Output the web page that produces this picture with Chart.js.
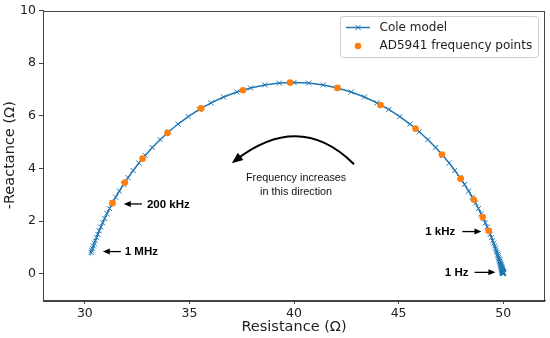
<!DOCTYPE html>
<html>
<head>
<meta charset="utf-8">
<script src="https://cdn.jsdelivr.net/npm/chart.js@4.4.1/dist/chart.umd.min.js"></script>
<style>
  html, body { margin: 0; padding: 0; background: #fff; }
  #wrap { width: 550px; height: 338px; }
</style>
</head>
<body>
<div id="wrap"><canvas id="myChart" width="550" height="338"></canvas></div>
<script>
// Cole model, 1 Hz -> 1 MHz (resistance / -reactance, ohm)
var coleR = [
  49.998, 49.998, 49.997, 49.997, 49.997, 49.996, 49.996, 49.996, 49.995, 49.995,
  49.994, 49.994, 49.993, 49.993, 49.992, 49.991, 49.990, 49.989, 49.988, 49.987,
  49.986, 49.984, 49.983, 49.981, 49.979, 49.977, 49.975, 49.973, 49.970, 49.967,
  49.964, 49.960, 49.956, 49.952, 49.947, 49.942, 49.937, 49.930, 49.923, 49.916,
  49.907, 49.898, 49.888, 49.876, 49.864, 49.850, 49.835, 49.818, 49.799, 49.778,
  49.755, 49.729, 49.701, 49.669, 49.634, 49.594, 49.550, 49.500, 49.445, 49.383,
  49.314, 49.237, 49.150, 49.052, 48.942, 48.819, 48.681, 48.525, 48.350, 48.155,
  47.935, 47.690, 47.416, 47.112, 46.774, 46.401, 45.991, 45.543, 45.056, 44.529,
  43.965, 43.366, 42.735, 42.077, 41.397, 40.702, 40.000, 39.298, 38.603, 37.923,
  37.265, 36.634, 36.035, 35.471, 34.944, 34.457, 34.009, 33.599, 33.226, 32.888,
  32.584, 32.310, 32.065, 31.845, 31.650, 31.475, 31.319, 31.181, 31.058, 30.948,
  30.850, 30.763, 30.686, 30.617, 30.555, 30.500, 30.450, 30.406, 30.366, 30.331,
  30.299
];
var coleX = [
  0.007, 0.008, 0.008, 0.009, 0.010, 0.011, 0.012, 0.013, 0.014, 0.016,
  0.017, 0.019, 0.021, 0.023, 0.025, 0.028, 0.030, 0.033, 0.036, 0.040,
  0.044, 0.048, 0.052, 0.057, 0.063, 0.069, 0.076, 0.083, 0.091, 0.100,
  0.109, 0.120, 0.131, 0.144, 0.157, 0.173, 0.189, 0.207, 0.227, 0.249,
  0.272, 0.299, 0.327, 0.358, 0.392, 0.430, 0.470, 0.515, 0.563, 0.617,
  0.675, 0.738, 0.807, 0.882, 0.964, 1.054, 1.151, 1.256, 1.371, 1.495,
  1.629, 1.775, 1.932, 2.101, 2.282, 2.476, 2.684, 2.906, 3.141, 3.389,
  3.649, 3.922, 4.204, 4.495, 4.792, 5.092, 5.392, 5.686, 5.970, 6.240,
  6.489, 6.712, 6.904, 7.058, 7.172, 7.242, 7.265, 7.242, 7.172, 7.058,
  6.904, 6.712, 6.489, 6.240, 5.970, 5.686, 5.392, 5.092, 4.792, 4.495,
  4.204, 3.922, 3.649, 3.389, 3.141, 2.906, 2.684, 2.476, 2.282, 2.101,
  1.932, 1.775, 1.629, 1.495, 1.371, 1.256, 1.151, 1.054, 0.964, 0.882,
  0.807
];

// AD5941 measured points, 1 kHz -> 200 kHz
var adR = [49.31, 49.02, 48.60, 47.97, 47.07, 45.81, 44.13, 42.08, 39.81, 37.56, 35.56, 33.95, 32.76, 31.91, 31.32];
var adX = [1.63, 2.15, 2.81, 3.61, 4.53, 5.51, 6.41, 7.06, 7.26, 6.97, 6.28, 5.35, 4.37, 3.46, 2.68];

var xTicks = [30, 35, 40, 45, 50];
var yTicks = [0, 2, 4, 6, 8, 10];

// frequency labels: text, text anchor (data), arrow tail -> head (data)
var freqLabels = [
  { text: "200 kHz", align: "left",  tx: 32.97, ty: 2.65, x1: 32.73, x2: 31.86 },
  { text: "1 MHz",   align: "left",  tx: 31.91, ty: 0.84, x1: 31.72, x2: 30.86 },
  { text: "1 kHz",   align: "right", tx: 47.71, ty: 1.60, x1: 48.05, x2: 48.96 },
  { text: "1 Hz",    align: "right", tx: 48.34, ty: 0.05, x1: 48.63, x2: 49.63 }
];

var BLUE = "#1f77b4";
var ORANGE = "#ff7f0e";
var AXIS = "#444";

function toPoints(xs, ys) {
  var out = [];
  for (var i = 0; i < xs.length; i++) out.push({ x: xs[i], y: ys[i] });
  return out;
}

function arrowHead(ctx, x1, y1, x2, y2, len, wid) {
  var a = Math.atan2(y2 - y1, x2 - x1);
  ctx.beginPath();
  ctx.moveTo(x2, y2);
  ctx.lineTo(x2 - len * Math.cos(a) + wid / 2 * Math.sin(a), y2 - len * Math.sin(a) - wid / 2 * Math.cos(a));
  ctx.lineTo(x2 - len * Math.cos(a) - wid / 2 * Math.sin(a), y2 - len * Math.sin(a) + wid / 2 * Math.cos(a));
  ctx.closePath();
  ctx.fill();
}

function drawCross(ctx, x, y, r) {
  ctx.beginPath();
  ctx.moveTo(x - r, y - r); ctx.lineTo(x + r, y + r);
  ctx.moveTo(x - r, y + r); ctx.lineTo(x + r, y - r);
  ctx.stroke();
}

var extras = {
  id: "extras",
  afterDraw: function(chart) {
    var ctx = chart.ctx;
    var ca = chart.chartArea;
    var sx = chart.scales.x, sy = chart.scales.y;
    ctx.save();

    // axes box
    ctx.strokeStyle = AXIS;
    ctx.lineWidth = 1;
    ctx.strokeRect(Math.round(ca.left) + 0.5, Math.round(ca.top) + 0.5, Math.round(ca.right - ca.left) - 1, Math.round(ca.bottom - ca.top));

    // frequency arrows + labels
    ctx.fillStyle = "#000";
    ctx.strokeStyle = "#000";
    ctx.lineWidth = 1.3;
    ctx.font = "bold 11.5px 'Liberation Sans', Arial, sans-serif";
    ctx.textBaseline = "middle";
    freqLabels.forEach(function(l) {
      var py = sy.getPixelForValue(l.ty);
      var p1 = sx.getPixelForValue(l.x1), p2 = sx.getPixelForValue(l.x2);
      var dir = p2 > p1 ? 1 : -1;
      ctx.beginPath();
      ctx.moveTo(p1, py);
      ctx.lineTo(p2 - dir * 5, py);
      ctx.stroke();
      arrowHead(ctx, p1, py, p2, py, 7, 6);
      ctx.textAlign = l.align;
      ctx.fillText(l.text, sx.getPixelForValue(l.tx), py + 0.5);
    });

    // curved arrow
    var ax0 = sx.getPixelForValue(42.87), ay0 = sy.getPixelForValue(4.16);
    var acx = sx.getPixelForValue(40.29), acy = sy.getPixelForValue(6.20);
    var ax1 = sx.getPixelForValue(37.03), ay1 = sy.getPixelForValue(4.20);
    ctx.lineWidth = 2;
    ctx.beginPath();
    ctx.moveTo(ax0, ay0);
    ctx.quadraticCurveTo(acx, acy, ax1 + 4, ay1 - 3.2);
    ctx.stroke();
    arrowHead(ctx, acx, acy, ax1, ay1, 11, 9);

    ctx.font = "10.8px 'Liberation Sans', Arial, sans-serif";
    ctx.textAlign = "center";
    ctx.fillStyle = "#111";
    var tcx = sx.getPixelForValue(40.1);
    ctx.fillText("Frequency increases", tcx, sy.getPixelForValue(3.64));
    ctx.fillText("in this direction", tcx, sy.getPixelForValue(3.11));

    // legend box (matplotlib style)
    var bx1 = ca.right - 6.5, bx0 = ca.right - 204.5;
    var by0 = ca.top + 6, by1 = ca.top + 47;
    ctx.fillStyle = "rgba(255,255,255,0.8)";
    ctx.strokeStyle = "#ccc";
    ctx.lineWidth = 1;
    ctx.beginPath();
    ctx.roundRect(bx0, by0, bx1 - bx0, by1 - by0, 3);
    ctx.fill();
    ctx.stroke();

    var hx0 = bx0 + 5.5, hx1 = hx0 + 24, hm = (hx0 + hx1) / 2;
    var r1 = by0 + 11, r2 = by0 + 29.5;
    ctx.strokeStyle = BLUE;
    ctx.lineWidth = 1.5;
    ctx.beginPath(); ctx.moveTo(hx0, r1); ctx.lineTo(hx1, r1); ctx.stroke();
    ctx.lineWidth = 1;
    drawCross(ctx, hm, r1, 2.6);
    ctx.fillStyle = ORANGE;
    ctx.beginPath(); ctx.arc(hm, r2, 3.3, 0, Math.PI * 2); ctx.fill();

    ctx.fillStyle = "#222";
    ctx.font = "12px 'DejaVu Sans', sans-serif";
    ctx.textAlign = "left";
    ctx.fillText(chart.data.datasets[1].label, hx1 + 9.5, r1);
    ctx.fillText(chart.data.datasets[0].label, hx1 + 9.5, r2);

    ctx.restore();
  }
};

var ctx = document.getElementById("myChart").getContext("2d");

var myChart = new Chart(ctx, {
  type: "scatter",
  data: {
    datasets: [{
      label: "AD5941 frequency points",
      data: toPoints(adR, adX),
      showLine: false,
      pointStyle: "circle",
      pointRadius: 3.3,
      pointBackgroundColor: ORANGE,
      pointBorderWidth: 0,
      order: 1
    }, {
      label: "Cole model",
      data: toPoints(coleR, coleX),
      showLine: true,
      borderColor: BLUE,
      borderWidth: 1.5,
      pointStyle: "crossRot",
      pointRadius: 3.6,
      pointBorderColor: BLUE,
      pointBorderWidth: 1,
      order: 2
    }]
  },
  options: {
    responsive: false,
    animation: false,
    devicePixelRatio: 1,
    layout: { padding: { top: 8, right: 5, left: 0, bottom: 0 } },
    plugins: {
      legend: { display: false },
      tooltip: { enabled: false }
    },
    scales: {
      x: {
        type: "linear",
        min: 28,
        max: 52,
        afterBuildTicks: function(axis) { axis.ticks = xTicks.map(function(v) { return { value: v }; }); },
        afterFit: function(s) { s.height = 38; },
        grid: { drawOnChartArea: false, drawTicks: true, tickLength: 4, color: AXIS },
        border: { display: true, color: AXIS, width: 1 },
        ticks: { font: { family: "'DejaVu Sans', sans-serif", size: 12.5 }, color: "#222", padding: 2, maxRotation: 0 },
        title: { display: true, text: "Resistance (Ω)", color: "#222", font: { family: "'DejaVu Sans', sans-serif", size: 14.5 }, padding: { top: 0, bottom: 2 } }
      },
      y: {
        type: "linear",
        min: -1,
        max: 10,
        afterBuildTicks: function(axis) { axis.ticks = yTicks.map(function(v) { return { value: v }; }); },
        afterFit: function(s) { s.width = 43; },
        grid: { drawOnChartArea: false, drawTicks: true, tickLength: 4, color: AXIS },
        border: { display: true, color: AXIS, width: 1 },
        ticks: { font: { family: "'DejaVu Sans', sans-serif", size: 12.5 }, color: "#222", padding: 3 },
        title: { display: true, text: "-Reactance (Ω)", color: "#222", font: { family: "'DejaVu Sans', sans-serif", size: 14.5 }, padding: { top: 2, bottom: 0 } }
      }
    }
  },
  plugins: [extras]
});
</script>
</body>
</html>
